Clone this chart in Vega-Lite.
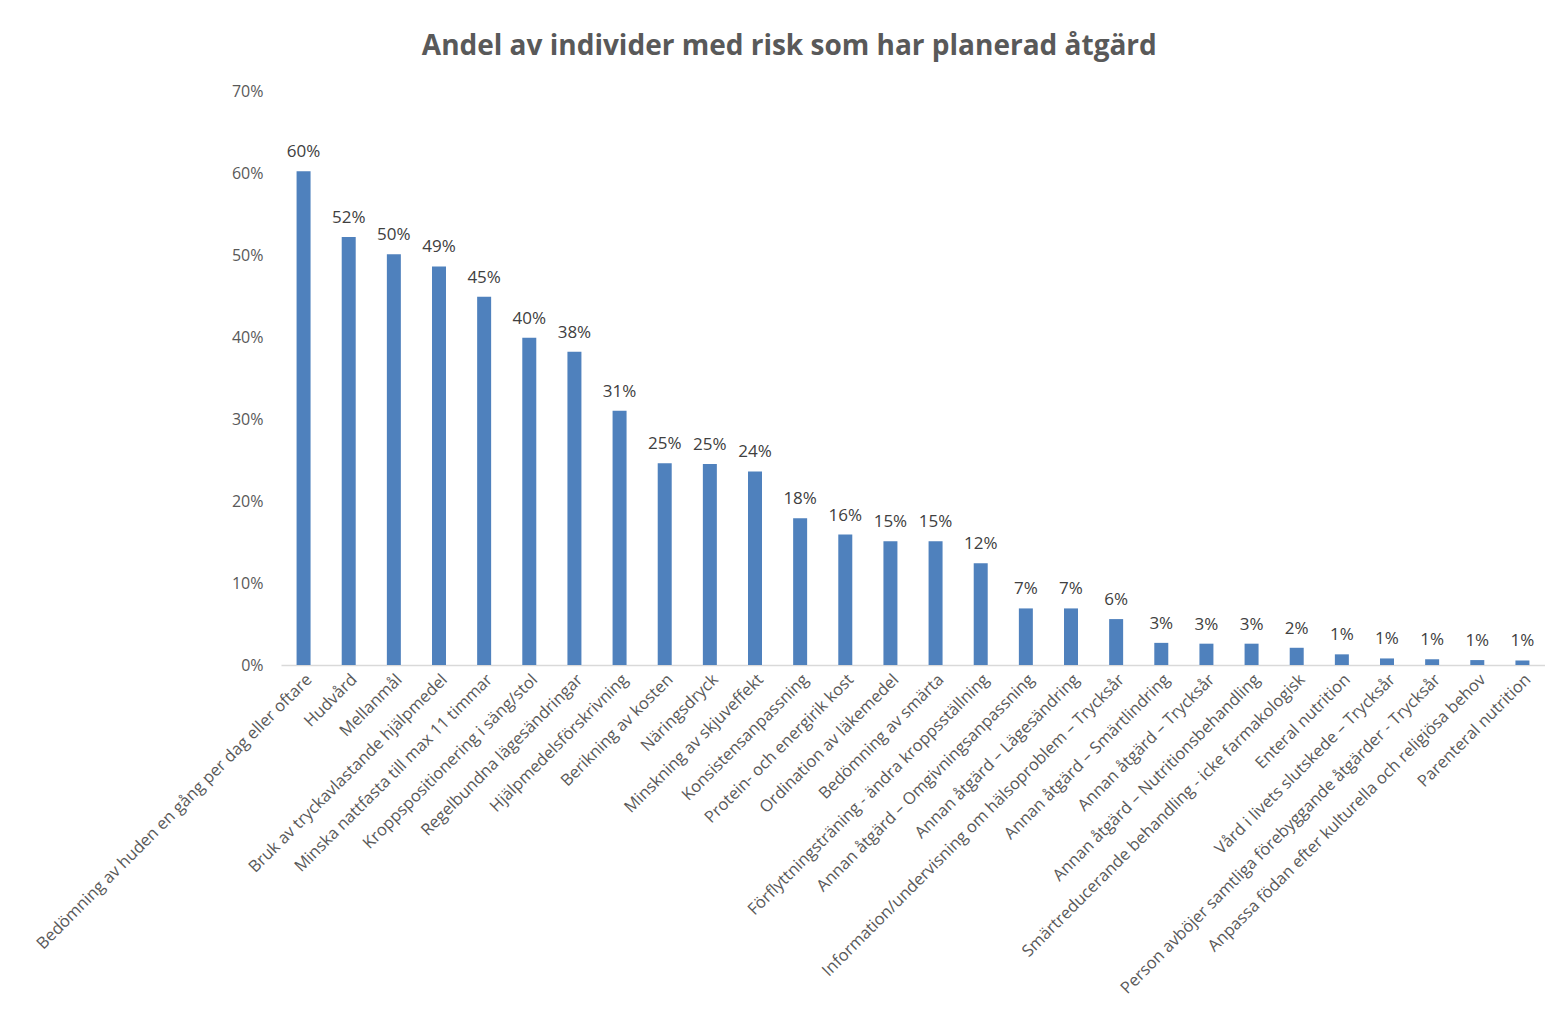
{
  "$schema": "https://vega.github.io/schema/vega-lite/v6.json",
  "width": 1264,
  "height": 574,
  "autosize": {"type": "none"},
  "padding": {"left": 281, "top": 91, "right": 0, "bottom": 357},
  "background": "white",
  "title": {
    "text": "Andel av individer med risk som har planerad åtgärd",
    "font": "Open Sans",
    "fontSize": 28,
    "fontWeight": "bold",
    "color": "#595959",
    "frame": "bounds",
    "offset": 22
  },
  "config": {"view": {"stroke": null}, "font": "Open Sans"},
  "data": {
    "values": [
      {"atgard": "Bedömning av huden en gång per dag eller oftare", "andel": 0.602},
      {"atgard": "Hudvård", "andel": 0.522},
      {"atgard": "Mellanmål", "andel": 0.501},
      {"atgard": "Bruk av tryckavlastande hjälpmedel", "andel": 0.486},
      {"atgard": "Minska nattfasta till max 11 timmar", "andel": 0.449},
      {"atgard": "Kroppspositionering i säng/stol", "andel": 0.399},
      {"atgard": "Regelbundna lägesändringar", "andel": 0.382},
      {"atgard": "Hjälpmedelsförskrivning", "andel": 0.31},
      {"atgard": "Berikning av kosten", "andel": 0.246},
      {"atgard": "Näringsdryck", "andel": 0.245},
      {"atgard": "Minskning av skjuveffekt", "andel": 0.236},
      {"atgard": "Konsistensanpassning", "andel": 0.179},
      {"atgard": "Protein- och energirik kost", "andel": 0.159},
      {"atgard": "Ordination av läkemedel", "andel": 0.151},
      {"atgard": "Bedömning av smärta", "andel": 0.151},
      {"atgard": "Förflyttningsträning - ändra kroppsställning", "andel": 0.124},
      {"atgard": "Annan åtgärd – Omgivningsanpassning", "andel": 0.069},
      {"atgard": "Annan åtgärd – Lägesändring", "andel": 0.069},
      {"atgard": "Information/undervisning om hälsoproblem – Trycksår", "andel": 0.056},
      {"atgard": "Annan åtgärd – Smärtlindring", "andel": 0.027},
      {"atgard": "Annan åtgärd – Trycksår", "andel": 0.026},
      {"atgard": "Annan åtgärd – Nutritionsbehandling", "andel": 0.026},
      {"atgard": "Smärtreducerande behandling - icke farmakologisk", "andel": 0.021},
      {"atgard": "Enteral nutrition", "andel": 0.013},
      {"atgard": "Vård i livets slutskede – Trycksår", "andel": 0.008},
      {"atgard": "Person avböjer samtliga förebyggande åtgärder - Trycksår", "andel": 0.007},
      {"atgard": "Anpassa födan efter kulturella och religiösa behov", "andel": 0.006},
      {"atgard": "Parenteral nutrition", "andel": 0.0055}
    ]
  },
  "encoding": {
    "x": {
      "field": "atgard",
      "type": "nominal",
      "sort": null,
      "scale": {"paddingInner": 0.69, "paddingOuter": 0.345},
      "axis": {
        "title": null,
        "labelAngle": -45,
        "labelFontSize": 16.5,
        "labelColor": "#595959",
        "labelLimit": 600,
        "labelPadding": 6,
        "ticks": false,
        "domainColor": "#d9d9d9",
        "domainWidth": 1.5
      }
    },
    "y": {
      "field": "andel",
      "type": "quantitative",
      "scale": {"domain": [0, 0.7]},
      "axis": {
        "title": null,
        "format": ".0%",
        "values": [0, 0.1, 0.2, 0.3, 0.4, 0.5, 0.6, 0.7],
        "grid": false,
        "domain": false,
        "ticks": false,
        "labelFontSize": 16,
        "labelColor": "#595959",
        "labelPadding": 18
      }
    }
  },
  "layer": [
    {"mark": {"type": "bar", "color": "#4f81bd"}},
    {
      "mark": {"type": "text", "baseline": "bottom", "dy": -10, "fontSize": 17, "color": "#404040"},
      "encoding": {"text": {"field": "andel", "type": "quantitative", "format": ".0%"}}
    }
  ]
}
